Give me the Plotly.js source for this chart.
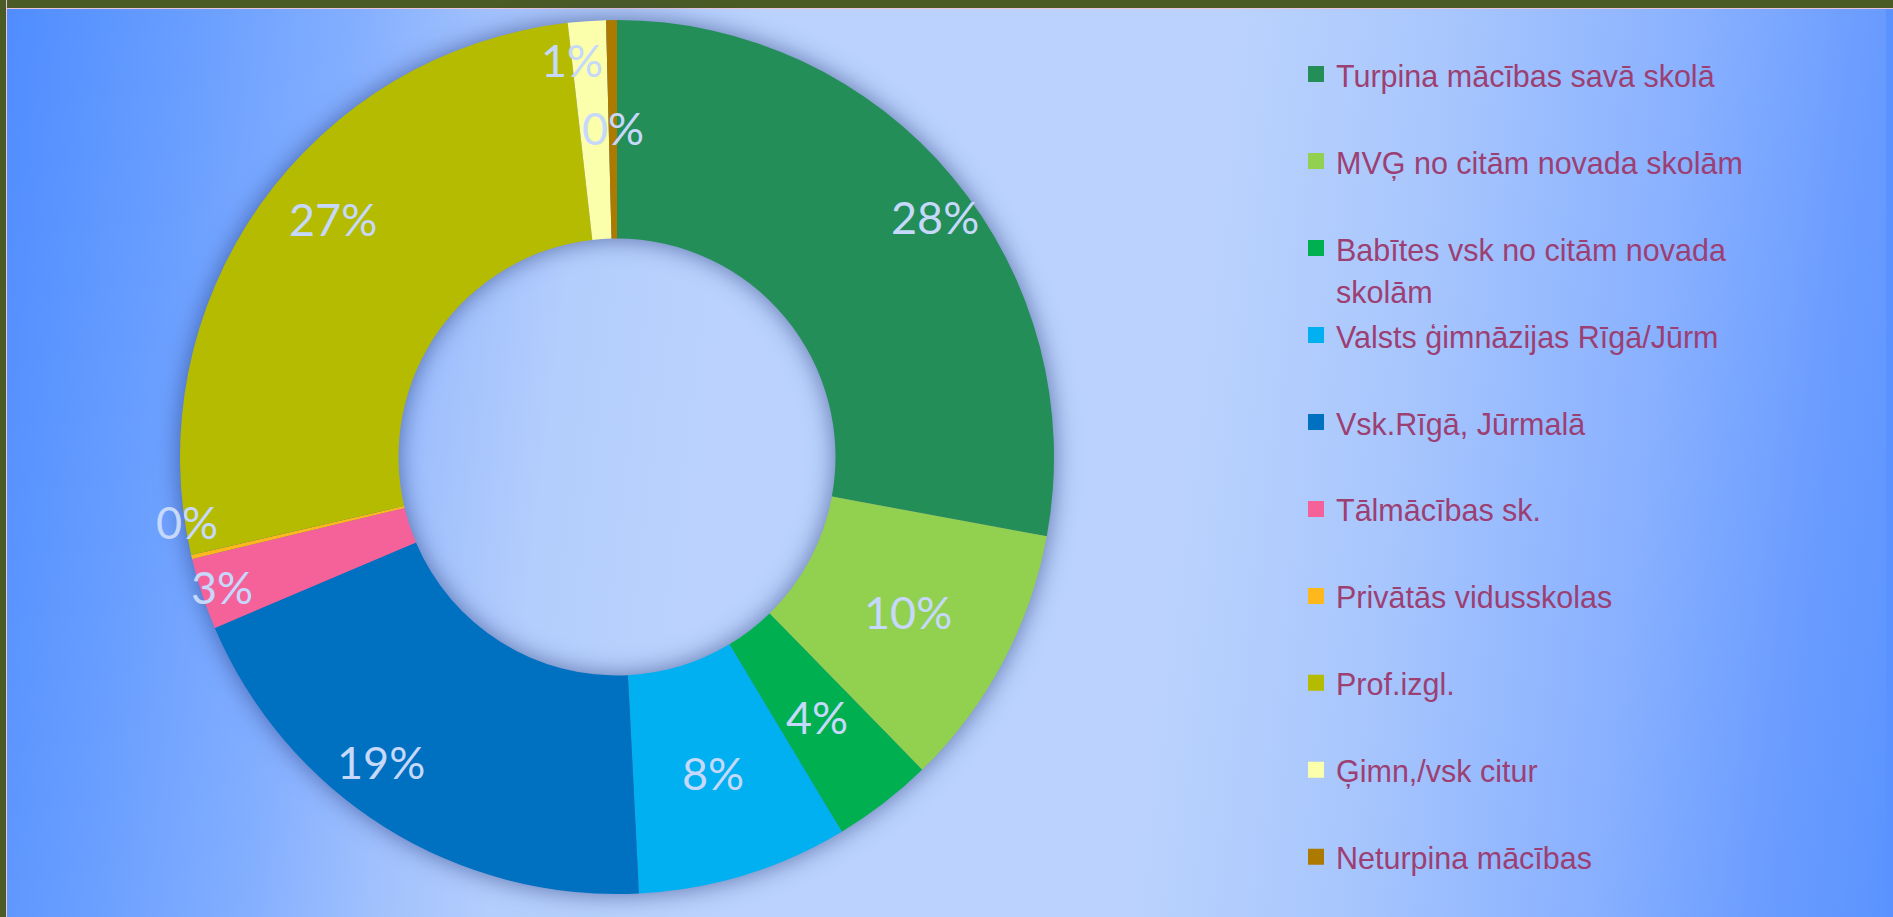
<!DOCTYPE html>
<html>
<head>
<meta charset="utf-8">
<script src="https://cdn.plot.ly/plotly-3.0.1.min.js"></script>
<style>
html,body{margin:0;padding:0;width:1893px;height:917px;overflow:hidden;}
#bg{position:absolute;left:0;top:0;width:1893px;height:917px;
 background:linear-gradient(97deg,#4E8CFF 0%,#6A9FFF 10%,#84AFFF 18%,#A0C0FD 24%,#B3CDFC 30%,#BAD2FD 38%,#BAD2FD 62%,#A9C7FD 72%,#88B0FF 85%,#6C9DFF 93%,#5A93FF 100%);}
#frameTop{position:absolute;left:0;top:0;width:1893px;height:8px;background:#4B5B26;border-bottom:1px solid #EBC4D8;}
#frameLeft{position:absolute;left:0;top:0;width:6px;height:917px;background:#4B5B26;border-right:1px solid #EBC4D8;}
#stripRight{position:absolute;left:1886px;top:9px;width:7px;height:908px;background:#5A93FF;}
#chart{position:absolute;left:0;top:0;width:1893px;height:917px;}
.pielayer .trace{filter:drop-shadow(0px 0px 12px rgba(30,50,115,0.6));}
.legend .legendpie{stroke-width:4px !important;}
</style>
</head>
<body>
<div id="bg"></div>
<div id="stripRight"></div>
<div id="frameTop"></div>
<div id="frameLeft"></div>
<div id="chart"></div>
<script>
// ---- data ----
const categories = [
  "Turpina mācības savā skolā",
  "MVĢ no citām novada skolām",
  "Babītes vsk no citām novada skolām",
  "Valsts ģimnāzijas Rīgā/Jūrm",
  "Vsk.Rīgā, Jūrmalā",
  "Tālmācības sk.",
  "Privātās vidusskolas",
  "Prof.izgl.",
  "Ģimn,/vsk citur",
  "Neturpina mācības"
];
const shares = [27.9, 9.8, 3.7, 7.8, 19.4, 2.65, 0.15, 26.8, 1.4, 0.4];

// ---- style ----
const sliceColors = ["#238E57","#92D050","#00B050","#00B0F0","#0070C0","#F5629A","#FFB81C","#B5BB00","#FBFFAB","#AD7A00"];
// label placement (fraction of outer radius, angular nudge in degrees)
const labelRadius = [0.911, 0.755, 0.75, 0.757, 0.883, 0.952, 0.995, 0.849, 0.915, 0.753];
const labelAngleShift = [2.7, 0, 0, 0, 5.7, 0, 4.6, 4.7, -2.5, 0];
const W = 1893, H = 917;
const pieCx = 617, pieCy = 457, pieR = 437;

const domain = {
  x: [(pieCx - pieR) / W, (pieCx + pieR) / W],
  y: [1 - (pieCy + pieR) / H, 1 - (pieCy - pieR) / H]
};

function wrap(s, n) {
  const words = s.split(' ');
  const lines = []; let cur = '';
  for (const w of words) {
    if (cur && (cur + ' ' + w).length > n) { lines.push(cur); cur = w; }
    else cur = cur ? cur + ' ' + w : w;
  }
  lines.push(cur);
  return lines;
}
const legendLabels = categories.map((c, i) => {
  const ls = wrap(c, 28);
  if (ls.length < 2 && i < categories.length - 1) ls.push(' ');
  return ls.map(l => '<span style="font-size:30.5px">' + l + '</span>').join('<br>');
});

const total = shares.reduce((a, b) => a + b, 0);
let cum = 0;
const annotations = shares.map((v, i) => {
  const mid = (cum + v / 2) / total * 2 * Math.PI + labelAngleShift[i] * Math.PI / 180;
  cum += v;
  const R = labelRadius[i] * pieR;
  const px = pieCx + R * Math.sin(mid);
  const py = pieCy - R * Math.cos(mid);
  return {
    xref: 'paper', yref: 'paper', x: px / W, y: 1 - py / H,
    text: Math.round(v / total * 100) + '%',
    showarrow: false, xanchor: 'center', yanchor: 'middle',
    font: {family: 'Lato, Inter, sans-serif', size: 45, color: '#C6D8FB'}
  };
});

const trace = {
  type: 'pie',
  labels: legendLabels,
  values: shares,
  sort: false,
  direction: 'clockwise',
  rotation: 0,
  hole: 0.5,
  marker: {colors: sliceColors, line: {width: 0.01, color: sliceColors}},
  textinfo: 'none',
  hoverinfo: 'percent',
  domain: domain
};

const layout = {
  width: W, height: H,
  margin: {l: 0, r: 0, t: 0, b: 0, pad: 0},
  paper_bgcolor: 'rgba(0,0,0,0)',
  plot_bgcolor: 'rgba(0,0,0,0)',
  showlegend: true,
  legend: {
    x: 1296 / W, y: 1 - 46.5 / H, xanchor: 'left', yanchor: 'top',
    valign: 'top',
    bgcolor: 'rgba(0,0,0,0)',
    font: {family: 'Liberation Sans, Arial, sans-serif', size: 32.3, color: '#9C3F72'}
  },
  annotations: annotations
};

Plotly.newPlot('chart', [trace], layout, {displayModeBar: false, responsive: false});
</script>
</body>
</html>
